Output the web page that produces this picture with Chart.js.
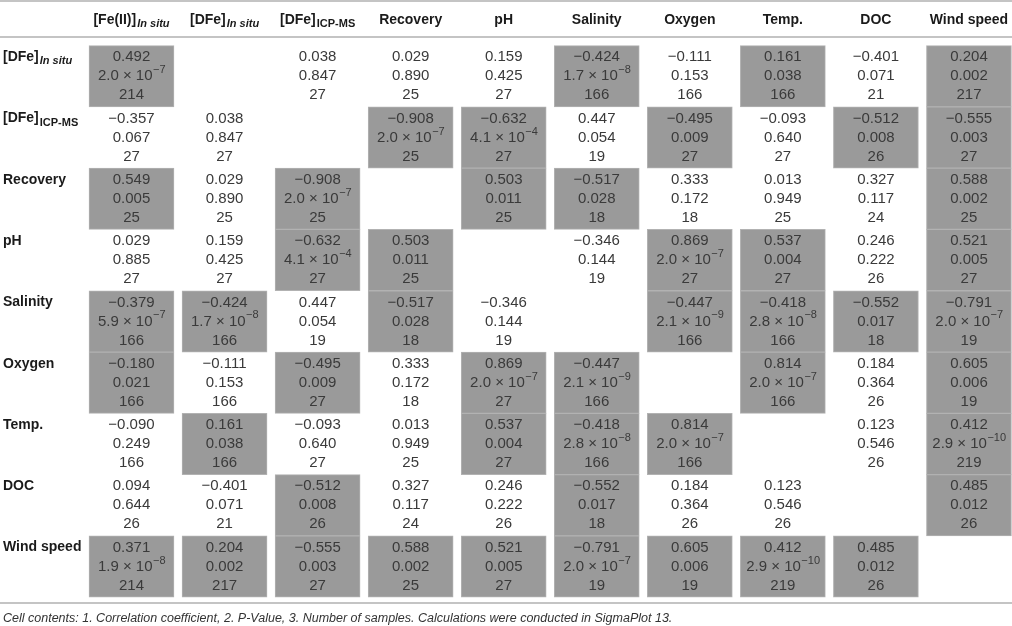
<!DOCTYPE html>
<html>
<head>
<meta charset="utf-8">
<script src="https://cdn.jsdelivr.net/npm/chart.js@4.4.1/dist/chart.umd.min.js"></script>
<style>
  html, body { margin: 0; padding: 0; background: #fff; overflow: hidden; }
  #wrap { width: 1012px; height: 626px; position: relative; }
</style>
</head>
<body>
<div id="wrap"><canvas id="tabela"></canvas></div>
<script>
// colunas e linhas da tabela de correlação
const colLabels = [['[Fe(II)]', 'In situ'], ['[DFe]', 'In situ'], ['[DFe]', 'ICP-MS'], ['Recovery'], ['pH'],
  ['Salinity'], ['Oxygen'], ['Temp.'], ['DOC'], ['Wind speed']];
const rowLabels = [['[DFe]', 'In situ'], ['[DFe]', 'ICP-MS'], ['Recovery'], ['pH'], ['Salinity'],
  ['Oxygen'], ['Temp.'], ['DOC'], ['Wind speed']];

// 1. coeficiente de correlação
const coef = [
  [0.492, null, 0.038, 0.029, 0.159, -0.424, -0.111, 0.161, -0.401, 0.204],
  [-0.357, 0.038, null, -0.908, -0.632, 0.447, -0.495, -0.093, -0.512, -0.555],
  [0.549, 0.029, -0.908, null, 0.503, -0.517, 0.333, 0.013, 0.327, 0.588],
  [0.029, 0.159, -0.632, 0.503, null, -0.346, 0.869, 0.537, 0.246, 0.521],
  [-0.379, -0.424, 0.447, -0.517, -0.346, null, -0.447, -0.418, -0.552, -0.791],
  [-0.180, -0.111, -0.495, 0.333, 0.869, -0.447, null, 0.814, 0.184, 0.605],
  [-0.090, 0.161, -0.093, 0.013, 0.537, -0.418, 0.814, null, 0.123, 0.412],
  [0.094, -0.401, -0.512, 0.327, 0.246, -0.552, 0.184, 0.123, null, 0.485],
  [0.371, 0.204, -0.555, 0.588, 0.521, -0.791, 0.605, 0.412, 0.485, null]
];

// 2. p-valor
const pVals = [
  ['2.0e-7', null, '0.847', '0.890', '0.425', '1.7e-8', '0.153', '0.038', '0.071', '0.002'],
  ['0.067', '0.847', null, '2.0e-7', '4.1e-4', '0.054', '0.009', '0.640', '0.008', '0.003'],
  ['0.005', '0.890', '2.0e-7', null, '0.011', '0.028', '0.172', '0.949', '0.117', '0.002'],
  ['0.885', '0.425', '4.1e-4', '0.011', null, '0.144', '2.0e-7', '0.004', '0.222', '0.005'],
  ['5.9e-7', '1.7e-8', '0.054', '0.028', '0.144', null, '2.1e-9', '2.8e-8', '0.017', '2.0e-7'],
  ['0.021', '0.153', '0.009', '0.172', '2.0e-7', '2.1e-9', null, '2.0e-7', '0.364', '0.006'],
  ['0.249', '0.038', '0.640', '0.949', '0.004', '2.8e-8', '2.0e-7', null, '0.546', '2.9e-10'],
  ['0.644', '0.071', '0.008', '0.117', '0.222', '0.017', '0.364', '0.546', null, '0.012'],
  ['1.9e-8', '0.002', '0.003', '0.002', '0.005', '2.0e-7', '0.006', '2.9e-10', '0.012', null]
];

// 3. número de amostras
const nSamples = [
  [214, null, 27, 25, 27, 166, 166, 166, 21, 217],
  [27, 27, null, 25, 27, 19, 27, 27, 26, 27],
  [25, 25, 25, null, 25, 18, 18, 25, 24, 25],
  [27, 27, 27, 25, null, 19, 27, 27, 26, 27],
  [166, 166, 19, 18, 19, null, 166, 166, 18, 19],
  [166, 166, 27, 18, 27, 166, null, 166, 26, 19],
  [166, 166, 27, 25, 27, 166, 166, null, 26, 219],
  [26, 21, 26, 24, 26, 18, 26, 26, null, 26],
  [214, 217, 27, 25, 27, 19, 19, 219, 26, null]
];

const footnote = 'Cell contents: 1. Correlation coefficient, 2. P-Value, 3. Number of samples. Calculations were conducted in SigmaPlot 13.';

// células significativas (p < 0.05) viram barras flutuantes cinza
const cells = [];
pVals.forEach((row, r) => row.forEach((p, c) => {
  if (p !== null && parseFloat(p) < 0.05) cells.push({ x: c, y: [r - 0.5, r + 0.5] });
}));

const FONT = '"Liberation Sans", Arial, Helvetica, sans-serif';
const MINUS = '\u2212';

function fmtCoef(v) {
  const s = Math.abs(v).toFixed(3);
  return v < 0 ? MINUS + s : s;
}

function drawLabel(ctx, parts, x, y, align) {
  ctx.font = 'bold 14px ' + FONT;
  const w1 = ctx.measureText(parts[0]).width;
  let w2 = 0, subFont = '';
  if (parts[1]) {
    subFont = (parts[1] === 'In situ' ? 'italic bold 11px ' : 'bold 11px ') + FONT;
    ctx.font = subFont;
    w2 = ctx.measureText(parts[1]).width + 1;
  }
  let x0 = align === 'center' ? x - (w1 + w2) / 2 : x;
  ctx.textAlign = 'left';
  ctx.fillStyle = '#1a1a1a';
  ctx.font = 'bold 14px ' + FONT;
  ctx.fillText(parts[0], x0, y);
  if (parts[1]) {
    ctx.font = subFont;
    ctx.fillText(parts[1], x0 + w1 + 1, y + 4);
  }
}

function drawP(ctx, p, x, y) {
  if (p.indexOf('e') < 0) {
    ctx.font = '15px ' + FONT;
    ctx.textAlign = 'center';
    ctx.fillText(p, x, y);
    return;
  }
  const [m, e] = p.split('e');
  const main = m + ' \u00d7 10';
  const sup = MINUS + Math.abs(parseInt(e, 10));
  ctx.font = '15px ' + FONT;
  const w1 = ctx.measureText(main).width;
  ctx.font = '11px ' + FONT;
  const w2 = ctx.measureText(sup).width;
  const x0 = x - (w1 + w2) / 2;
  ctx.textAlign = 'left';
  ctx.font = '15px ' + FONT;
  ctx.fillText(main, x0, y);
  ctx.font = '11px ' + FONT;
  ctx.fillText(sup, x0 + w1 + 0.5, y - 6);
}

const tableText = {
  id: 'tableText',
  afterDatasetsDraw(chart) {
    const ctx = chart.ctx;
    const xs = chart.scales.x, ys = chart.scales.y;
    const area = chart.chartArea;
    ctx.save();
    ctx.textBaseline = 'middle';

    // linhas horizontais da tabela
    ctx.strokeStyle = '#c4c4c4';
    ctx.lineWidth = 2;
    [1, 37, 603].forEach(yy => {
      ctx.beginPath();
      ctx.moveTo(area.left, yy);
      ctx.lineTo(area.right, yy);
      ctx.stroke();
    });

    // cabeçalho
    colLabels.forEach((lab, c) => drawLabel(ctx, lab, xs.getPixelForValue(c), 20, 'center'));

    // rótulos das linhas e conteúdo das células
    rowLabels.forEach((lab, r) => {
      const yc = ys.getPixelForValue(r);
      drawLabel(ctx, lab, 3, yc - 19, 'left');
      coef[r].forEach((v, c) => {
        if (v === null) return;
        const xc = xs.getPixelForValue(c);
        ctx.fillStyle = '#3a3a3a';
        ctx.font = '15px ' + FONT;
        ctx.textAlign = 'center';
        ctx.fillText(fmtCoef(v), xc, yc - 19);
        drawP(ctx, pVals[r][c], xc, yc);
        ctx.font = '15px ' + FONT;
        ctx.textAlign = 'center';
        ctx.fillText(String(nSamples[r][c]), xc, yc + 19);
      });
    });

    // nota de rodapé
    ctx.font = 'italic 12.5px ' + FONT;
    ctx.textAlign = 'left';
    ctx.fillStyle = '#333';
    ctx.fillText(footnote, 3, 619);
    ctx.restore();
  }
};

const ctxTabela = document.getElementById('tabela').getContext('2d');

new Chart(ctxTabela, {
  type: 'bar',
  data: {
    datasets: [{
      data: cells,
      backgroundColor: '#9a9a9a',
      borderColor: '#b2b2b2',
      borderWidth: 1,
      borderSkipped: false,
      barThickness: 85
    }]
  },
  options: {
    animation: false,
    responsive: true,
    maintainAspectRatio: false,
    layout: { padding: 0 },
    plugins: { legend: { display: false }, tooltip: { enabled: false } },
    scales: {
      x: { type: 'linear', offset: false, min: -1.4132, max: 9.4626, display: false },
      y: { type: 'linear', reverse: true, min: -1.2431, max: 8.969, display: false }
    }
  },
  plugins: [tableText]
});
</script>
</body>
</html>
